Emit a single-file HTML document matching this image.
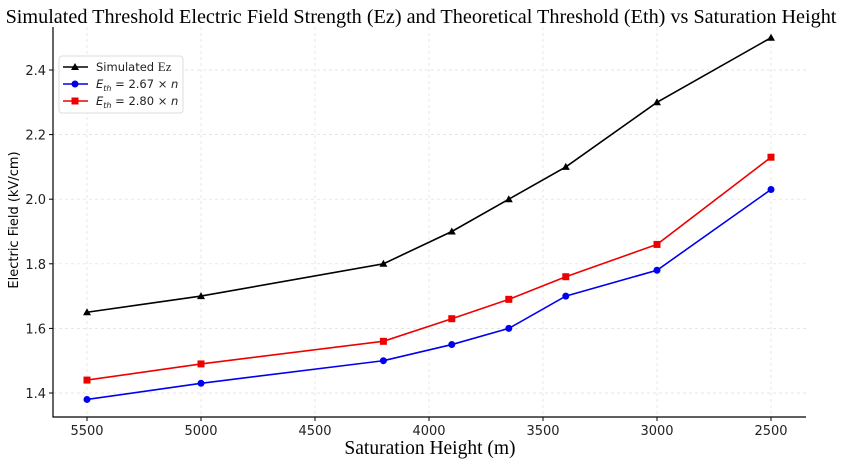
<!DOCTYPE html>
<html><head><meta charset="utf-8"><style>
body{margin:0;background:#fff}
svg text{font-family:"DejaVu Sans","Liberation Sans",sans-serif}
</style></head><body>
<svg id="c" width="845" height="466"></svg>
<script>
const heights=[5500,5000,4200,3900,3650,3400,3000,2500];
const simEz=[1.65,1.70,1.80,1.90,2.00,2.10,2.30,2.50];
const eth267=[1.38,1.43,1.50,1.55,1.60,1.70,1.78,2.03];
const eth280=[1.44,1.49,1.56,1.63,1.69,1.76,1.86,2.13];
const xTicks=[5500,5000,4500,4000,3500,3000,2500];
const yTicks=[1.4,1.6,1.8,2.0,2.2,2.4];
const L=53,R=806,T=27,B=417;
const xs=v=>87+(5500-v)*0.228;
const ys=v=>70+(2.4-v)*323;
const svg=document.getElementById('c');
const NS='http://www.w3.org/2000/svg';
function mk(t,a,p){const e=document.createElementNS(NS,t);for(const k in a)e.setAttribute(k,a[k]);(p||svg).appendChild(e);return e;}
let e;
e=mk('text',{x:421,y:23,'text-anchor':'middle','font-size':'20.2',fill:'#000',style:'font-family:"Liberation Serif",serif'});e.textContent='Simulated Threshold Electric Field Strength (Ez) and Theoretical Threshold (Eth) vs Saturation Height';


xTicks.forEach(v=>{const x=xs(v);
 e=mk('line',{x1:x,x2:x,y1:T,y2:B,stroke:'#ddd','stroke-dasharray':'3,3','stroke-width':0.7});
 
 
 mk('line',{x1:x,x2:x,y1:B,y2:B+4,stroke:'#000'});
 e=mk('text',{x:x,y:B+18,'text-anchor':'middle','font-size':13,fill:'#222'});e.textContent=v;
 
 
});
yTicks.forEach(v=>{const y=ys(v);
 e=mk('line',{x1:L,x2:R,y1:y,y2:y,stroke:'#ddd','stroke-dasharray':'3,3','stroke-width':0.7});
 
 
 mk('line',{x1:L-4,x2:L,y1:y,y2:y,stroke:'#000'});
 e=mk('text',{x:L-7,y:y+5,'text-anchor':'end','font-size':13,fill:'#222'});e.textContent=v.toFixed(1);
 
 
});
e=mk('path',{d:`M${L},${T}V${B}H${R}`,fill:'none',stroke:'#000','stroke-width':1.2});


e=mk('text',{x:430,y:454,'text-anchor':'middle','font-size':19.5,style:'font-family:"Liberation Serif",serif'});e.textContent='Saturation Height (m)';


e=mk('text',{x:0,y:0,'text-anchor':'middle','font-size':13,transform:'translate(18,220) rotate(-90)'});e.textContent='Electric Field (kV/cm)';


function marker(g,type,x,y,c){
 if(type==='tri')return mk('path',{d:`M${x},${y-4}L${x+4},${y+3}L${x-4},${y+3}Z`,fill:c},g);
 if(type==='circ')return mk('circle',{cx:x,cy:y,r:3.5,fill:c},g);
 return mk('rect',{x:x-3.5,y:y-3.5,width:7,height:7,fill:c},g);
}
function series(vals,c,type,name){
 const g=mk('g',{});
 
 
 mk('polyline',{points:heights.map((h,i)=>xs(h)+','+ys(vals[i])).join(' '),fill:'none',stroke:c,'stroke-width':1.6},g);
 heights.forEach((h,i)=>{const m=marker(g,type,xs(h),ys(vals[i]),c);
  
  });
}
series(simEz,'#000','tri','simulated-ez-series');
series(eth267,'#0000ee','circ','eth-267-series');
series(eth280,'#ee0000','sq','eth-280-series');
const lg=mk('g',{});


mk('rect',{x:59,y:56,width:124,height:57,rx:3,fill:'#fff',stroke:'#ddd'},lg);
const items=[['#000','tri','Simulated Ez'],['#0000ee','circ','E_th = 2.67 × n'],['#ee0000','sq','E_th = 2.80 × n']];
items.forEach((it,i)=>{const y=67+i*17;
 mk('line',{x1:63,x2:88,y1:y,y2:y,stroke:it[0],'stroke-width':1.6},lg);
 marker(lg,it[1],75,y,it[0]);
 const t=mk('text',{x:96,y:y+4,'font-size':11.5,fill:'#222'},lg);
 if(i===0){t.innerHTML='Simulated <tspan style="font-family:\'Liberation Serif\',serif" font-size="13">Ez</tspan>';}
 else{t.innerHTML='<tspan font-style="italic">E</tspan><tspan font-style="italic" font-size="8" dy="3">th</tspan><tspan dy="-3"> = '+(i===1?'2.67':'2.80')+' × </tspan><tspan font-style="italic">n</tspan>';}
 
 
});
</script>
</body></html>
